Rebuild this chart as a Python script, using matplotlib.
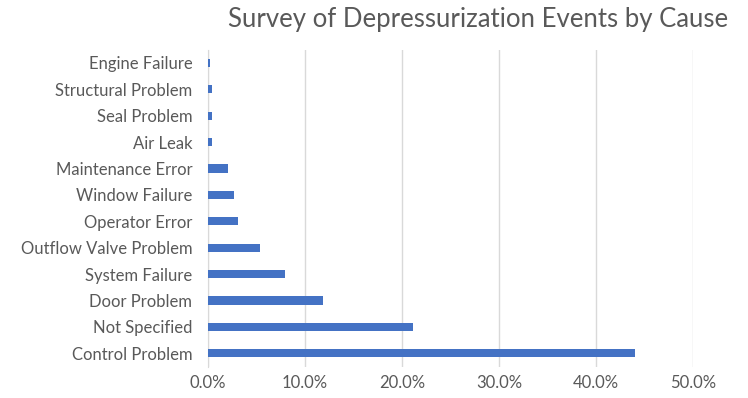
import matplotlib
matplotlib.use("Agg")
import matplotlib.pyplot as plt
from matplotlib.ticker import FuncFormatter

# Survey data (share of events, %)
causes = ["Control Problem", "Not Specified", "Door Problem", "System Failure",
          "Outflow Valve Problem", "Operator Error", "Window Failure",
          "Maintenance Error", "Air Leak", "Seal Problem", "Structural Problem",
          "Engine Failure"]
shares = [44.0, 21.1, 11.9, 8.0, 5.4, 3.1, 2.7, 2.1, 0.4, 0.4, 0.4, 0.2]
x_ticks = [0, 10, 20, 30, 40, 50]

plt.rcParams['font.family'] = ['Lato', 'DejaVu Sans']
text_color = "#595959"
grid_color = "#D9D9D9"

fig = plt.figure(figsize=(7.48, 3.98), dpi=100)
ax = fig.add_axes([0.2777, 0.079, 0.9265 - 0.2777, 0.875 - 0.079])

ypos = list(range(len(causes)))
ax.barh(ypos, shares, height=0.31, color="#4472C4", zorder=3)

ax.set_xlim(0, 50)
ax.set_ylim(-0.5, len(causes) - 0.5)
ax.set_xticks(x_ticks)
ax.xaxis.set_major_formatter(FuncFormatter(lambda v, p: f"{v:.1f}%"))
ax.set_yticks(ypos)
ax.set_yticklabels(causes)

ax.grid(axis="x", color=grid_color, linewidth=1, zorder=0)
for side in ["top", "right", "bottom"]:
    ax.spines[side].set_visible(False)
ax.spines["left"].set_color(grid_color)
ax.tick_params(axis="both", length=0, labelsize=12, colors=text_color)
ax.tick_params(axis="x", pad=6)
ax.tick_params(axis="y", pad=11)

fig.text(0.974, 0.952, "Survey of Depressurization Events by Cause",
         ha="right", va="center", fontsize=18.5, color=text_color)

fig.savefig("out.png", dpi=100)
